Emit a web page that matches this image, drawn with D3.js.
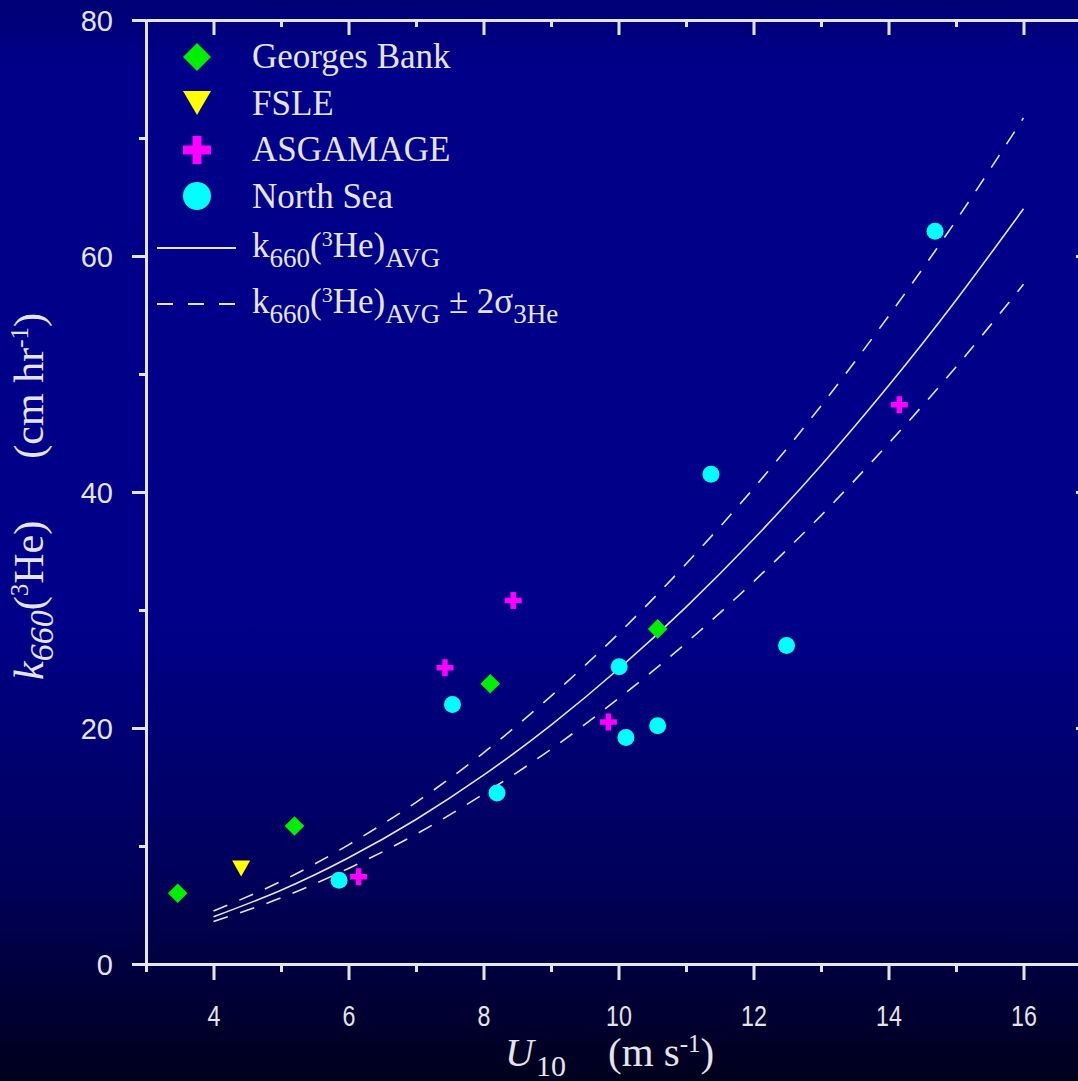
<!DOCTYPE html>
<html>
<head>
<meta charset="utf-8">
<script src="https://cdn.jsdelivr.net/npm/d3@7"></script>
<style>
  html, body { margin: 0; padding: 0; background: #000018; }
  svg { display: block; }
</style>
</head>
<body>
<svg id="chart" width="1078" height="1081"></svg>
<script>
// ---------------- DATA ----------------
const georgesU = [3.47, 5.20, 8.10, 10.58];
const georgesK = [6.0, 11.7, 23.75, 28.4];

const fsleU = [4.41];
const fsleK = [8.1];

const asgU = [6.15, 7.43, 8.44, 9.85, 14.16];
const asgK = [7.4, 25.1, 30.8, 20.5, 47.4];

const nsU = [5.86, 7.54, 8.20, 10.01, 10.11, 10.58, 11.37, 12.49, 14.69];
const nsK = [7.1, 22.0, 14.5, 25.2, 19.2, 20.2, 41.5, 27.0, 62.1];

const curveU    = [4, 5, 6, 7, 8, 9, 10, 11, 12, 13, 14, 15, 16];
const avgK      = [4.0, 6.25, 9.0, 12.25, 16.0, 20.25, 25.0, 30.25, 36.0, 42.25, 49.0, 56.25, 64.0];
const upperK    = [4.5, 7.0, 10.1, 13.7, 17.9, 22.7, 28.0, 33.9, 40.3, 47.3, 54.9, 63.0, 71.7];
const lowerK    = [3.6, 5.6, 8.1, 11.0, 14.4, 18.2, 22.5, 27.2, 32.4, 38.0, 44.1, 50.6, 57.6];

const xMajorTicks = [4, 6, 8, 10, 12, 14, 16];
const xMinorTicks = [3, 5, 7, 9, 11, 13, 15, 17];
const yMajorTicks = [0, 20, 40, 60, 80];
const yMinorTicks = [10, 30, 50, 70];

const legendNames = ["Georges Bank", "FSLE", "ASGAMAGE", "North Sea"];

// ---------------- SETUP ----------------
const W = 1078, H = 1081;
const svg = d3.select("#chart");
const fg = "#e4e4ec";

const defs = svg.append("defs");
const grad = defs.append("linearGradient").attr("id", "bg")
  .attr("x1", 0).attr("y1", 0).attr("x2", 0).attr("y2", 1);
grad.append("stop").attr("offset", "0%").attr("stop-color", "#000074");
grad.append("stop").attr("offset", "6%").attr("stop-color", "#000088");
grad.append("stop").attr("offset", "58%").attr("stop-color", "#000088");
grad.append("stop").attr("offset", "82%").attr("stop-color", "#000058");
grad.append("stop").attr("offset", "100%").attr("stop-color", "#00001c");
svg.append("rect").attr("width", W).attr("height", H).attr("fill", "url(#bg)");

const x = d3.scaleLinear().domain([3, 17]).range([146, 1091]);
const y = d3.scaleLinear().domain([0, 80]).range([964, 20]);

// ---------------- AXES ----------------
function styleAxis(g) {
  g.selectAll("path.domain").attr("stroke", fg).attr("stroke-width", 3);
  g.selectAll(".tick line").attr("stroke", fg).attr("stroke-width", 3);
}

// bottom
const gxMinor = svg.append("g").attr("transform", `translate(0,${y(0)})`)
  .call(d3.axisBottom(x).tickValues(xMinorTicks).tickSize(8).tickSizeOuter(0).tickFormat(""));
styleAxis(gxMinor);
const gx = svg.append("g").attr("transform", `translate(0,${y(0)})`)
  .call(d3.axisBottom(x).tickValues(xMajorTicks).tickSize(16).tickSizeOuter(0).tickFormat(d3.format("d")));
styleAxis(gx);
gx.selectAll(".tick text")
  .attr("fill", fg).attr("font-family", "Liberation Sans, Arial, sans-serif")
  .attr("font-size", 29).attr("y", 41).attr("dy", "0.71em")
  .attr("transform", "scale(0.8,1)");

// top (inward)
const gtMinor = svg.append("g").attr("transform", `translate(0,${y(80)})`)
  .call(d3.axisBottom(x).tickValues(xMinorTicks).tickSize(7).tickSizeOuter(0).tickFormat(""));
styleAxis(gtMinor);
const gt = svg.append("g").attr("transform", `translate(0,${y(80)})`)
  .call(d3.axisBottom(x).tickValues(xMajorTicks).tickSize(15).tickSizeOuter(0).tickFormat(""));
styleAxis(gt);

// left
const gyMinor = svg.append("g").attr("transform", `translate(${x(3)},0)`)
  .call(d3.axisLeft(y).tickValues(yMinorTicks).tickSize(7).tickSizeOuter(0).tickFormat(""));
styleAxis(gyMinor);
const gy = svg.append("g").attr("transform", `translate(${x(3)},0)`)
  .call(d3.axisLeft(y).tickValues(yMajorTicks).tickSize(14).tickSizeOuter(0).tickFormat(d3.format("d")));
styleAxis(gy);
gy.selectAll(".tick text")
  .attr("fill", fg).attr("font-family", "Liberation Sans, Arial, sans-serif")
  .attr("font-size", 29).attr("x", -33).attr("dy", "0.36em");

// right (inward)
const grMinor = svg.append("g").attr("transform", `translate(${x(17)},0)`)
  .call(d3.axisLeft(y).tickValues(yMinorTicks).tickSize(7).tickSizeOuter(0).tickFormat(""));
styleAxis(grMinor);
const gr = svg.append("g").attr("transform", `translate(${x(17)},0)`)
  .call(d3.axisLeft(y).tickValues(yMajorTicks).tickSize(15).tickSizeOuter(0).tickFormat(""));
styleAxis(gr);

// ---------------- AXIS TITLES ----------------
const serif = "Liberation Serif, Times New Roman, serif";
const xt1 = svg.append("text").attr("x", 505).attr("y", 1066)
  .attr("font-family", serif).attr("font-size", 40).attr("fill", fg);
xt1.append("tspan").attr("font-style", "italic").text("U");
xt1.append("tspan").attr("font-size", 30).attr("dy", 10).attr("dx", 2).text("10");

const xt2 = svg.append("text").attr("x", 608).attr("y", 1066)
  .attr("font-family", serif).attr("font-size", 41).attr("fill", fg);
xt2.append("tspan").text("(m s");
xt2.append("tspan").attr("font-size", 25).attr("dy", -14).text("-1");
xt2.append("tspan").attr("dy", 14).text(")");

const yt1 = svg.append("text").attr("transform", "translate(43,680) rotate(-90)")
  .attr("font-family", serif).attr("font-size", 42).attr("fill", fg);
yt1.append("tspan").attr("font-style", "italic").text("k");
yt1.append("tspan").attr("font-style", "italic").attr("font-size", 34).attr("dy", 10).text("660");
yt1.append("tspan").attr("dy", -10).text("(");
yt1.append("tspan").attr("font-size", 25).attr("dy", -15).text("3");
yt1.append("tspan").attr("dy", 15).text("He)");

const yt2 = svg.append("text").attr("transform", "translate(43,313) rotate(-90)")
  .attr("text-anchor", "end")
  .attr("font-family", serif).attr("font-size", 42).attr("fill", fg);
yt2.append("tspan").text("(cm hr");
yt2.append("tspan").attr("font-size", 25).attr("dy", -15).text("-1");
yt2.append("tspan").attr("dy", 15).text(")");

// ---------------- CURVES ----------------
function curvePts(ks) { return curveU.map((u, i) => [u, ks[i]]); }
const line = d3.line().x(d => x(d[0])).y(d => y(d[1])).curve(d3.curveNatural);
svg.append("path").attr("d", line(curvePts(upperK))).attr("fill", "none")
  .attr("stroke", fg).attr("stroke-width", 1.6).attr("stroke-dasharray", "15,13");
svg.append("path").attr("d", line(curvePts(lowerK))).attr("fill", "none")
  .attr("stroke", fg).attr("stroke-width", 1.6).attr("stroke-dasharray", "15,13");
svg.append("path").attr("d", line(curvePts(avgK))).attr("fill", "none")
  .attr("stroke", fg).attr("stroke-width", 1.6);

// ---------------- SYMBOLS ----------------
function diamond(r) { return `M0,${-r}L${r},0L0,${r}L${-r},0Z`; }
function triDown(w, h) { return `M${-w/2},${-h/2}L${w/2},${-h/2}L0,${h/2}Z`; }
function plus(s, t) {
  const a = s / 2, b = t / 2;
  return `M${-b},${-a}H${b}V${-b}H${a}V${b}H${b}V${a}H${-b}V${b}H${-a}V${-b}H${-b}Z`;
}
function circle(r) { return `M${-r},0A${r},${r} 0 1,0 ${r},0A${r},${r} 0 1,0 ${-r},0Z`; }

const series = [
  { u: georgesU, k: georgesK, color: "#00ee00", sym: diamond(9.8), leg: diamond(14) },
  { u: fsleU, k: fsleK, color: "#ffff00", sym: triDown(18, 16), leg: triDown(28, 24) },
  { u: asgU, k: asgK, color: "#ff00ff", sym: plus(17, 5.5), leg: plus(28, 9) },
  { u: nsU, k: nsK, color: "#00ffff", sym: circle(8.5), leg: circle(14) }
];

series.forEach(s => {
  svg.append("g").selectAll("path")
    .data(s.u.map((u, i) => [u, s.k[i]]))
    .join("path")
    .attr("transform", d => `translate(${x(d[0])},${y(d[1])})`)
    .attr("d", s.sym).attr("fill", s.color);
});

// ---------------- LEGEND ----------------
const legY = [57, 103, 150, 196];
const legTextY = [68, 115, 161, 208];
const lg = svg.append("g");
series.forEach((s, i) => {
  lg.append("path").attr("transform", `translate(197,${legY[i]})`).attr("d", s.leg).attr("fill", s.color);
  lg.append("text").attr("x", 252).attr("y", legTextY[i])
    .attr("font-family", serif).attr("font-size", 35).attr("fill", fg).text(legendNames[i]);
});
lg.append("line").attr("x1", 157).attr("x2", 236).attr("y1", 248).attr("y2", 248)
  .attr("stroke", fg).attr("stroke-width", 2);
lg.append("line").attr("x1", 157).attr("x2", 236).attr("y1", 304).attr("y2", 304)
  .attr("stroke", fg).attr("stroke-width", 2).attr("stroke-dasharray", "16,15");

function kLabel(yb, extra) {
  const t = lg.append("text").attr("x", 252).attr("y", yb)
    .attr("font-family", serif).attr("font-size", 35).attr("fill", fg);
  t.append("tspan").text("k");
  t.append("tspan").attr("font-size", 27).attr("dy", 10).text("660");
  t.append("tspan").attr("dy", -10).text("(");
  t.append("tspan").attr("font-size", 22).attr("dy", -11).text("3");
  t.append("tspan").attr("dy", 11).text("He)");
  t.append("tspan").attr("font-size", 27).attr("dy", 10).text("AVG");
  if (extra) {
    t.append("tspan").attr("dy", -10).text(" ± 2σ");
    t.append("tspan").attr("font-size", 27).attr("dy", 10).text("3He");
  }
}
kLabel(257, false);
kLabel(313, true);
</script>
</body>
</html>
